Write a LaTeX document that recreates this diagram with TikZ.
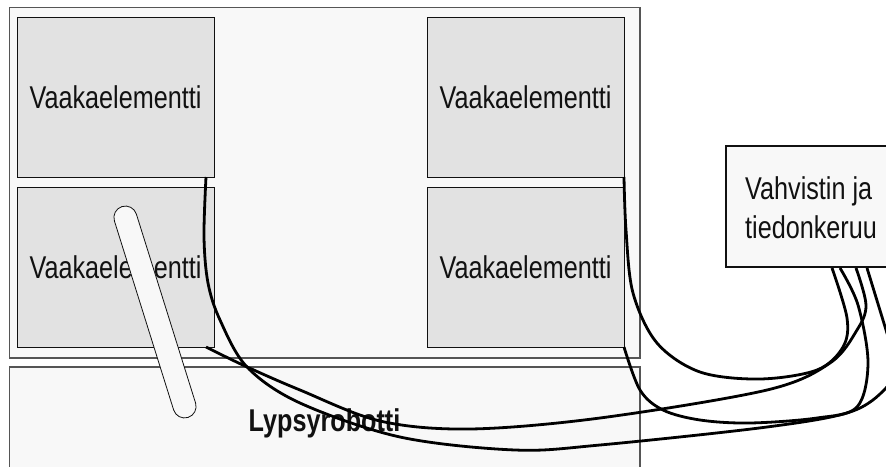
\documentclass[tikz,border=0pt]{standalone}
\usepackage{graphicx}
\usepackage{fontspec}
\setmainfont{Liberation Sans}
\definecolor{panel}{HTML}{F8F8F8}
\definecolor{cell}{HTML}{E2E2E2}
\definecolor{edge}{HTML}{555555}
\definecolor{ink}{HTML}{111111}
\newcommand{\sq}[1]{\scalebox{0.80}[1]{#1}}
\usetikzlibrary{shapes.misc}
\tikzset{
  panelbox/.style={draw=edge,fill=panel,line width=1.1pt,inner sep=0pt,outer sep=0pt},
  cellbox/.style={draw=ink,fill=cell,line width=1pt,inner sep=0pt,outer sep=0pt,minimum width=197pt,minimum height=160pt,text=ink,font=\fontsize{31.5}{36}\selectfont},
  wire/.style={draw=black,line width=2.8pt,line join=round},
  pill/.style={draw=ink,fill=panel,line width=.8pt,rounded rectangle,minimum width=221pt,minimum height=23pt,inner sep=0pt}
}
\begin{document}
\begin{tikzpicture}[x=1pt,y=-1pt]
\useasboundingbox (0,0) rectangle (886,466);
\clip (0,0) rectangle (886,466);
\fill[white] (0,0) rectangle (886,466);
\node[panelbox,minimum width=630.5pt,minimum height=350.5pt] (frame) at (324.75,182.75) {};
\node[panelbox,minimum width=630.5pt,minimum height=120pt] (robot) at (324.75,427) {};
\node[cellbox] (tl) at (115.5,97.5) {\sq{Vaakaelementti}};
\node[cellbox] (bl) at (115.5,267.5) {\sq{Vaakaelementti}};
\node[cellbox] (tr) at (525.5,97.5) {\sq{Vaakaelementti}};
\node[cellbox] (br) at (525.5,267.5) {\sq{Vaakaelementti}};
\node[text=ink,font=\bfseries\fontsize{31.5}{36}\selectfont,anchor=base] (lab) at (324.5,431) {\sq{Lypsyrobotti}};
\node[panelbox,draw=ink,minimum width=180pt,minimum height=121pt] (amp) at (816,206.5) {};
\node[text=ink,font=\fontsize{31.5}{39}\selectfont,align=left,anchor=west,inner sep=0pt] (amplab) at (745,208) {\sq{Vahvistin ja}\\\sq{tiedonkeruu}};
\node[pill,rotate=-72.6] (arm) at (155,312) {};
\coordinate (a) at (206,177);
\coordinate (b) at (206,347);
\coordinate (c) at (624,177);
\coordinate (d) at (624,347);
\coordinate (e1) at (832,268);
\coordinate (e2) at (840,268);
\coordinate (e3) at (856,268);
\coordinate (e4) at (867,268);
\draw[wire] plot[smooth,tension=.55] coordinates {(a) (204,237) (208,283) (220,320) (247,367) (300,403) (400,437) (515,450) (600,445) (767,427) (850,412) (886,388) (900,360)};
\draw[wire] plot[smooth,tension=.55] coordinates {(b) (245,366) (300,390) (380,421) (470,429) (600,418) (767,390) (830,363) (857,330) (866,305) (e3)};
\draw[wire] plot[smooth,tension=.55] coordinates {(c) (626,230) (633,293) (657,343) (700,372) (760,379) (817,370) (843,347) (847,318) (e1)};
\draw[wire] plot[smooth,tension=.55] coordinates {(d) (640,390) (663,410) (700,420) (750,423) (817,418) (857,407) (868,363) (858,305) (e2)};
\draw[wire] (e4) -- (890,343);
\end{tikzpicture}
\end{document}
